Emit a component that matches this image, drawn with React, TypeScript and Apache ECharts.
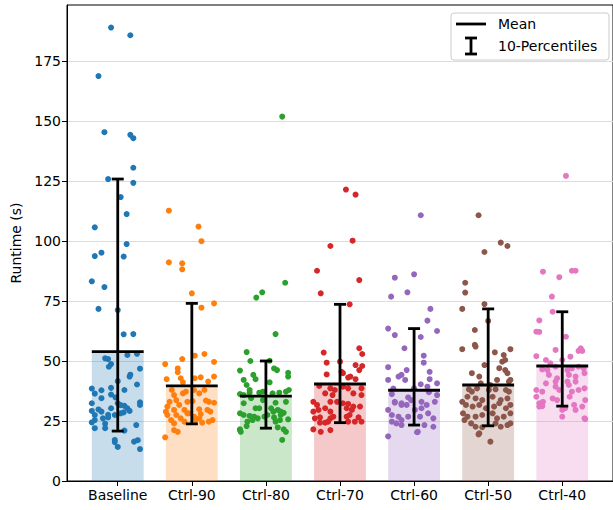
import React, { useEffect, useRef } from "react";
import * as echarts from "echarts";

const categories = ["Baseline", "Ctrl-90", "Ctrl-80", "Ctrl-70", "Ctrl-60", "Ctrl-50", "Ctrl-40"];
const colors = ["#1f77b4", "#ff7f0e", "#2ca02c", "#d62728", "#9467bd", "#8c564b", "#e377c2"];
const means = [53.9, 39.6, 35.4, 40.4, 37.8, 40.0, 47.9];
const p10 = [20.8, 23.8, 22.0, 24.3, 23.3, 23.0, 31.2];
const p90 = [125.8, 74.0, 50.0, 73.6, 63.5, 71.7, 70.5];
const yTicks = [0, 25, 50, 75, 100, 125, 150, 175];

// [x jitter (category units), runtime]
const baselinePts = [
  [-0.09, 188.9], [0.17, 185.7], [-0.26, 168.7], [-0.18, 145.3], [0.17, 144.2], [0.21, 142.8], [0.21, 130.5], [-0.13, 125.8], [0.21, 124.2], [0.04, 118.3], [0.12, 111.2], [-0.31, 105.7], [0.12, 98.7], [-0.31, 93.7], [-0.22, 95.1], [0.08, 93.5], [-0.35, 83.2], [-0.18, 80.8], [-0.26, 71.7], [0.0, 71.2], [0.08, 61.1], [0.21, 61.2],
  [0.13, 52.5], [0.26, 53.0], [-0.17, 51.1], [-0.13, 50.8], [-0.09, 48.7], [-0.12, 47.6], [0.30, 46.8], [0.17, 44.3], [0.16, 43.5], [0.0, 41.6], [0.26, 40.2], [-0.35, 38.5], [-0.22, 37.8], [-0.09, 38.8], [0.09, 37.9], [-0.31, 36.4], [-0.09, 36.0], [-0.03, 34.8], [-0.22, 34.5], [-0.35, 32.4], [0.30, 32.8], [0.30, 31.7], [0.0, 32.4], [0.04, 31.6], [0.09, 31.3], [-0.09, 30.3], [-0.26, 29.8], [-0.22, 28.9], [-0.35, 29.2], [0.13, 30.3], [0.16, 29.2], [-0.13, 27.6], [-0.13, 26.5], [-0.04, 27.5], [0.04, 28.2], [0.08, 28.6], [-0.31, 27.5], [-0.20, 26.1], [-0.31, 25.4], [-0.35, 24.4], [-0.17, 23.9], [-0.17, 22.0], [-0.31, 22.0], [0.25, 23.3], [0.09, 21.0], [-0.04, 17.1], [-0.04, 16.2], [0.22, 16.4], [0.27, 17.0], [0.0, 14.2], [0.30, 13.3],
];
const ctrl90Pts = [
  [-0.31, 112.6], [0.09, 106.0], [0.13, 99.9], [-0.31, 91.1], [-0.13, 90.7], [-0.13, 88.2], [0.0, 78.2], [0.13, 72.2], [0.30, 74.0],
  [-0.36, 48.7], [-0.13, 50.8], [0.04, 52.2], [0.17, 52.9], [0.30, 49.6], [-0.19, 46.9], [-0.19, 45.3], [-0.34, 42.4], [-0.15, 42.8], [-0.12, 41.1], [0.04, 42.8], [0.12, 43.2], [0.22, 41.4], [0.30, 43.5], [-0.27, 37.9], [-0.24, 35.8], [-0.12, 36.5], [-0.08, 37.2], [0.03, 37.9], [0.10, 36.5], [0.17, 37.9], [-0.30, 33.0], [-0.33, 31.0], [-0.21, 33.7], [-0.17, 31.7], [-0.06, 33.0], [0.01, 33.3], [0.19, 33.5], [0.23, 33.0], [0.30, 32.6], [-0.35, 28.9], [-0.33, 27.5], [-0.24, 29.6], [-0.21, 27.5], [-0.10, 29.6], [-0.06, 28.2], [0.10, 29.9], [0.12, 27.9], [0.21, 29.6], [0.25, 28.9], [-0.28, 25.4], [-0.24, 24.0], [-0.15, 26.1], [-0.10, 24.7], [0.05, 25.4], [0.10, 26.1], [0.14, 24.3], [0.23, 24.7], [0.28, 25.4], [-0.24, 21.2], [-0.19, 20.5], [-0.36, 18.2], [-0.04, 28.2], [0.03, 26.8],
];
const ctrl80Pts = [
  [0.22, 151.8], [0.26, 82.6], [-0.05, 78.6], [-0.13, 76.4], [0.13, 61.2], [-0.26, 53.7], [-0.21, 50.0], [0.05, 50.1],
  [-0.35, 46.0], [-0.17, 44.2], [-0.14, 42.4], [0.11, 46.9], [0.15, 46.2], [0.30, 45.1], [0.30, 43.5], [-0.30, 42.1], [-0.26, 40.0], [0.05, 41.1], [-0.22, 37.9], [-0.22, 36.8], [-0.35, 36.2], [-0.30, 35.8], [-0.09, 36.8], [-0.04, 37.2], [0.09, 36.5], [0.18, 36.8], [0.27, 37.2], [0.31, 37.9], [-0.20, 34.5], [-0.04, 33.7], [0.13, 32.6], [0.27, 33.0], [-0.30, 32.4], [-0.14, 30.3], [-0.09, 30.3], [0.07, 30.3], [0.10, 28.9], [0.16, 29.6], [0.20, 28.9], [-0.35, 28.2], [-0.30, 27.5], [-0.22, 27.1], [-0.16, 26.8], [-0.11, 26.1], [-0.02, 26.8], [0.02, 27.5], [0.11, 26.5], [0.20, 27.5], [0.24, 28.4], [0.30, 25.7], [-0.25, 24.7], [-0.18, 25.4], [0.13, 24.7], [0.19, 25.4], [-0.26, 22.9], [-0.35, 21.5], [-0.34, 20.5], [0.16, 22.3], [0.24, 21.5], [0.27, 20.5], [0.22, 17.1], [-0.35, 21.2],
];
const ctrl70Pts = [
  [0.08, 121.4], [0.21, 119.3], [0.17, 100.1], [-0.13, 97.9], [-0.31, 87.6], [0.26, 83.7], [-0.26, 78.2], [0.13, 73.6],
  [-0.22, 53.5], [0.26, 55.3], [0.30, 52.9], [-0.18, 49.3], [0.0, 49.7], [0.21, 48.3], [0.30, 47.9], [0.26, 46.2], [-0.18, 44.4], [0.02, 45.5], [0.04, 44.9], [0.11, 43.1], [0.14, 43.5], [0.21, 42.4], [-0.28, 39.6], [-0.13, 38.6], [-0.07, 37.9], [0.04, 39.3], [0.11, 38.6], [0.29, 38.6], [-0.20, 36.5], [-0.10, 35.8], [0.18, 36.5], [0.29, 35.8], [-0.36, 33.0], [-0.31, 31.7], [-0.13, 33.0], [-0.04, 33.0], [0.04, 32.4], [0.11, 32.1], [0.27, 31.0], [-0.36, 28.9], [-0.29, 29.6], [-0.20, 30.3], [-0.13, 28.9], [0.09, 30.3], [0.16, 29.6], [0.18, 31.0], [-0.34, 26.1], [-0.27, 26.5], [-0.13, 26.1], [-0.09, 26.8], [0.09, 26.8], [0.13, 27.5], [0.25, 26.5], [-0.27, 24.3], [-0.20, 24.3], [-0.16, 24.7], [0.11, 24.7], [0.20, 24.7], [0.29, 24.7], [-0.36, 21.5], [-0.26, 20.5], [-0.13, 21.2],
];
const ctrl60Pts = [
  [0.09, 110.7], [-0.26, 84.7], [0.0, 86.1], [-0.31, 76.8], [-0.09, 78.6], [0.22, 71.7], [0.18, 66.8], [-0.35, 63.5], [0.31, 62.5], [-0.26, 60.8], [0.09, 60.0], [-0.13, 55.3],
  [0.13, 52.2], [0.13, 49.3], [-0.35, 47.4], [-0.10, 46.2], [0.21, 45.5], [-0.35, 42.1], [-0.21, 43.5], [-0.17, 44.2], [-0.12, 42.1], [0.09, 40.3], [0.18, 39.3], [0.31, 40.7], [0.21, 42.4], [0.0, 38.6], [-0.30, 36.2], [-0.26, 33.0], [-0.17, 31.7], [-0.10, 31.7], [-0.04, 33.7], [0.10, 33.0], [0.17, 31.7], [0.28, 33.0], [0.31, 35.8], [-0.35, 29.6], [-0.30, 27.5], [-0.21, 26.8], [-0.17, 25.4], [-0.08, 26.8], [0.01, 29.6], [0.10, 30.3], [0.19, 28.2], [0.26, 26.1], [0.08, 26.8], [-0.30, 24.7], [-0.24, 24.0], [-0.17, 23.3], [0.14, 23.3], [0.26, 22.6], [0.05, 20.5], [-0.35, 18.6], [0.04, 20.3], [-0.26, 32.6], [-0.17, 32.4], [-0.08, 34.8], [-0.28, 38.5], [0.20, 37.0],
];
const ctrl50Pts = [
  [-0.13, 110.7], [0.17, 99.3], [0.26, 97.9], [-0.05, 95.4], [-0.31, 82.6], [-0.31, 78.5], [-0.05, 73.7], [-0.35, 71.7], [0.0, 66.7], [-0.18, 62.9], [-0.18, 56.7], [-0.17, 56.0], [-0.35, 54.9], [0.30, 54.9], [0.09, 53.6], [0.21, 52.5],
  [0.19, 49.7], [0.23, 50.4], [-0.05, 48.3], [0.15, 47.0], [0.23, 46.2], [-0.22, 44.9], [-0.12, 43.5], [0.26, 44.9], [0.12, 42.1], [0.28, 41.4], [0.30, 42.1], [-0.10, 40.7], [0.03, 40.0], [-0.26, 38.2], [-0.22, 37.2], [-0.15, 38.6], [0.01, 37.9], [0.10, 38.2], [0.24, 37.9], [0.28, 37.2], [-0.28, 35.1], [-0.17, 34.4], [-0.08, 33.7], [0.06, 35.1], [0.17, 33.7], [0.26, 34.4], [-0.35, 33.0], [-0.30, 31.7], [-0.21, 31.0], [-0.12, 31.7], [-0.03, 30.3], [0.08, 31.0], [0.15, 32.4], [0.24, 30.3], [0.30, 31.7], [-0.34, 28.2], [-0.28, 26.8], [-0.17, 26.8], [-0.08, 27.5], [0.06, 28.2], [0.12, 26.1], [0.21, 26.8], [0.30, 28.2], [-0.32, 25.4], [-0.23, 24.0], [-0.17, 22.6], [0.10, 24.0], [0.17, 22.6], [0.26, 23.3], [0.30, 24.0], [-0.12, 19.9], [-0.08, 22.4], [0.03, 16.4], [-0.13, 19.4],
];
const ctrl40Pts = [
  [0.05, 127.1], [-0.26, 87.2], [-0.04, 84.9], [0.13, 87.6], [0.18, 87.6], [-0.14, 76.8], [-0.13, 70.5], [-0.31, 66.9], [-0.35, 62.2], [-0.31, 62.1], [0.05, 60.1], [-0.09, 54.6], [0.25, 55.3], [0.27, 54.2], [0.22, 54.2], [-0.35, 52.0],
  [-0.22, 50.4], [-0.16, 49.0], [0.0, 50.4], [0.11, 51.8], [-0.27, 46.5], [-0.20, 46.2], [-0.09, 47.6], [0.07, 46.2], [0.13, 46.9], [0.22, 47.6], [0.29, 46.9], [-0.18, 44.2], [-0.07, 42.8], [0.09, 44.2], [0.18, 43.5], [0.30, 44.9], [-0.22, 40.7], [-0.09, 41.4], [0.07, 41.4], [0.09, 40.0], [0.18, 41.4], [-0.35, 37.9], [-0.27, 37.2], [-0.09, 39.3], [-0.04, 37.9], [0.13, 37.2], [0.22, 37.9], [0.30, 38.6], [-0.35, 35.1], [-0.26, 33.0], [-0.13, 34.4], [-0.07, 33.7], [0.10, 35.1], [0.16, 31.7], [0.27, 31.0], [0.31, 33.7], [-0.31, 31.0], [-0.27, 31.2], [0.0, 29.6], [0.04, 30.3], [0.18, 29.6], [0.30, 26.1], [0.0, 26.8], [0.31, 25.8], [-0.31, 32.4], [-0.27, 31.4],
];
const groupPoints = [baselinePts, ctrl90Pts, ctrl80Pts, ctrl70Pts, ctrl60Pts, ctrl50Pts, ctrl40Pts];

const FONT = "DejaVu Sans";
const BAR_HALF = 0.35;

function hexToRgba(hex: string, a: number) {
  const n = parseInt(hex.slice(1), 16);
  return `rgba(${(n >> 16) & 255},${(n >> 8) & 255},${n & 255},${a})`;
}

export default function App() {
  const ref = useRef<HTMLDivElement>(null);
  useEffect(() => {
    if (!ref.current) return;
    const chart = echarts.init(ref.current, undefined, { renderer: "svg" });

    const barData = categories.map((_, i) => [i, means[i]]);
    const errData = categories.map((_, i) => [i, p10[i], p90[i], means[i]]);

    const scatterSeries = groupPoints.map((pts, gi) => ({
      type: "scatter",
      name: categories[gi],
      data: pts.map((p) => [gi + p[0], p[1]]),
      symbolSize: 6,
      itemStyle: { color: colors[gi], opacity: 1 },
      z: 3,
      silent: true,
    }));

    const option: any = {
      animation: false,
      backgroundColor: "#fff",
      grid: {
        left: 67, right: -3, top: 5, bottom: 29,
        show: true, borderColor: "#000", borderWidth: 1, backgroundColor: "transparent",
      },
      xAxis: {
        type: "value",
        min: -0.685,
        max: 6.685,
        splitLine: { show: false },
        axisLine: { show: true, onZero: false, lineStyle: { color: "#000", width: 1 } },
        axisTick: { show: true, customValues: [0, 1, 2, 3, 4, 5, 6], length: 5, lineStyle: { color: "#000", width: 1 } },
        axisLabel: {
          customValues: [0, 1, 2, 3, 4, 5, 6],
          formatter: (v: number) => categories[Math.round(v)] ?? "",
          fontFamily: FONT, fontSize: 14, color: "#000", margin: 7,
        },
      },
      yAxis: {
        type: "value",
        min: 0,
        max: 198.3,
        interval: 25,
        name: "Runtime (s)",
        nameLocation: "middle",
        nameGap: 43,
        nameTextStyle: { fontFamily: FONT, fontSize: 14, color: "#000" },
        axisLine: { show: true, onZero: false, lineStyle: { color: "#000", width: 1 } },
        axisTick: { show: true, customValues: yTicks, length: 5, lineStyle: { color: "#000", width: 1 } },
        axisLabel: { customValues: yTicks, fontFamily: FONT, fontSize: 14, color: "#000", margin: 6 },
        splitLine: { show: true, lineStyle: { color: "#dcdcdc", width: 1 } },
      },
      series: [
        {
          type: "custom",
          data: barData,
          encode: { x: 0, y: 1 },
          z: 1,
          silent: true,
          renderItem: (params: any, api: any) => {
            const i = api.value(0);
            const m = api.value(1);
            const a = api.coord([i - BAR_HALF, m]);
            const b = api.coord([i + BAR_HALF, 0]);
            return {
              type: "rect",
              shape: { x: a[0], y: a[1], width: b[0] - a[0], height: b[1] - a[1] },
              style: { fill: hexToRgba(colors[i], 0.25) },
            };
          },
        },
        ...scatterSeries,
        {
          type: "custom",
          data: errData,
          encode: { x: 0, y: [1, 2, 3] },
          z: 5,
          silent: true,
          renderItem: (params: any, api: any) => {
            const i = api.value(0);
            const lo = api.value(1);
            const hi = api.value(2);
            const m = api.value(3);
            const top = api.coord([i, hi]);
            const bot = api.coord([i, lo]);
            const ml = api.coord([i - BAR_HALF, m]);
            const mr = api.coord([i + BAR_HALF, m]);
            const cap = 6;
            const st = { stroke: "#000", lineWidth: 2.8 };
            return {
              type: "group",
              children: [
                { type: "line", shape: { x1: top[0], y1: top[1], x2: bot[0], y2: bot[1] }, style: st },
                { type: "line", shape: { x1: top[0] - cap, y1: top[1], x2: top[0] + cap, y2: top[1] }, style: st },
                { type: "line", shape: { x1: bot[0] - cap, y1: bot[1], x2: bot[0] + cap, y2: bot[1] }, style: st },
                { type: "line", shape: { x1: ml[0], y1: ml[1], x2: mr[0], y2: mr[1] }, style: st },
              ],
            };
          },
        },
      ],
      graphic: [
        {
          type: "group",
          z: 100,
          children: [
            { type: "rect", shape: { x: 451, y: 13, width: 158, height: 47, r: 3 }, style: { fill: "rgba(255,255,255,0.8)", stroke: "#cccccc", lineWidth: 1 } },
            { type: "line", shape: { x1: 456, y1: 24, x2: 486, y2: 24 }, style: { stroke: "#000", lineWidth: 2.8 } },
            { type: "line", shape: { x1: 471, y1: 38, x2: 471, y2: 54 }, style: { stroke: "#000", lineWidth: 2.8 } },
            { type: "line", shape: { x1: 465, y1: 38, x2: 477, y2: 38 }, style: { stroke: "#000", lineWidth: 2.8 } },
            { type: "line", shape: { x1: 465, y1: 54, x2: 477, y2: 54 }, style: { stroke: "#000", lineWidth: 2.8 } },
            { type: "text", x: 498, y: 24, style: { text: "Mean", fontFamily: FONT, fontSize: 14, fill: "#000", verticalAlign: "middle" } },
            { type: "text", x: 498, y: 46, style: { text: "10-Percentiles", fontFamily: FONT, fontSize: 14, fill: "#000", verticalAlign: "middle" } },
          ],
        },
      ],
    };
    chart.setOption(option);
    return () => chart.dispose();
  }, []);
  return <div ref={ref} style={{ position: "fixed", left: 0, top: 0, width: 613, height: 510 }} />;
}
